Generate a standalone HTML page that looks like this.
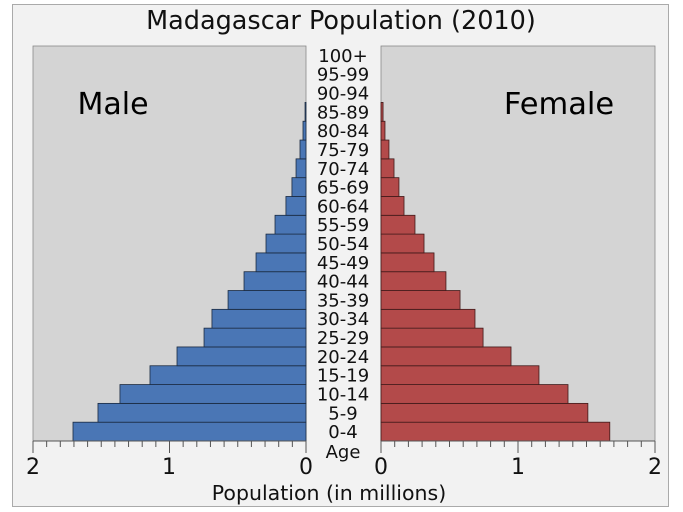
<!DOCTYPE html>
<html><head><meta charset="utf-8"><style>
html,body{margin:0;padding:0;background:#fff;}
svg{display:block;font-family:"DejaVu Sans","Liberation Sans",sans-serif;}
</style></head><body>
<svg width="683" height="512" viewBox="0 0 683 512" xmlns="http://www.w3.org/2000/svg">
<rect x="0" y="0" width="683" height="512" fill="#ffffff"/>
<rect x="12.5" y="4.5" width="656" height="502" fill="#f2f2f2" stroke="#aaaaaa" stroke-width="1"/>
<text x="341" y="29" font-size="25.5" text-anchor="middle" fill="#111">Madagascar Population (2010)</text>
<rect x="33" y="46" width="273" height="395" fill="#d4d4d4" stroke="#888" stroke-width="0.8"/>
<rect x="381" y="46" width="274" height="395" fill="#d4d4d4" stroke="#888" stroke-width="0.8"/>
<text x="113" y="114" font-size="30" text-anchor="middle" fill="#000">Male</text>
<text x="559" y="114" font-size="30.5" text-anchor="middle" fill="#000">Female</text>
<g id="bars" stroke="#1a2a40" stroke-width="0.8"></g>
<g id="labels" font-size="18" text-anchor="middle" fill="#111"></g>
<g id="ticks" stroke="#555" stroke-width="1"></g>
<g font-size="22" text-anchor="middle" fill="#111">
<text x="33" y="474">2</text><text x="169" y="474">1</text><text x="306" y="474">0</text>
<text x="381" y="474">0</text><text x="518" y="474">1</text><text x="655" y="474">2</text>
</g>
<text x="343" y="458" font-size="18" text-anchor="middle" fill="#111">Age</text>
<text x="329" y="500" font-size="20.5" text-anchor="middle" fill="#111">Population (in millions)</text>
</svg>
<script>
var ns="http://www.w3.org/2000/svg";
var ages=["0-4","5-9","10-14","15-19","20-24","25-29","30-34","35-39","40-44","45-49","50-54","55-59","60-64","65-69","70-74","75-79","80-84","85-89","90-94","95-99","100+"];
var m=[1.707,1.524,1.363,1.143,0.945,0.747,0.689,0.571,0.454,0.366,0.293,0.227,0.147,0.103,0.073,0.044,0.022,0.007,0,0,0];
var f=[1.67,1.51,1.365,1.153,0.949,0.745,0.686,0.577,0.474,0.387,0.314,0.248,0.168,0.131,0.095,0.058,0.029,0.015,0,0,0];
var h=395/21,b=document.getElementById("bars"),l=document.getElementById("labels"),t=document.getElementById("ticks");
function el(g,tag,a,txt){var e=document.createElementNS(ns,tag);for(var k in a)e.setAttribute(k,a[k]);if(txt)e.textContent=txt;g.appendChild(e);}
for(var i=0;i<21;i++){var y=441-(i+1)*h;
 if(m[i]>0){var w=m[i]*136.5;el(b,"rect",{x:306-w,y:y,width:w,height:h,fill:"#4a76b5"});}
 if(f[i]>0){var w2=f[i]*137;el(b,"rect",{x:381,y:y,width:w2,height:h,fill:"#b34a4a",stroke:"#401a1a"});}
 el(l,"text",{x:343,y:y+h/2+6.5},ages[i]);}
el(t,"line",{x1:33,y1:441,x2:306,y2:441});el(t,"line",{x1:381,y1:441,x2:655,y2:441});
for(var j=0;j<=20;j++){var len=(j%10==0)?12:6;
 var x1=306-j*13.65;el(t,"line",{x1:x1,y1:441,x2:x1,y2:441+len});
 var x2=381+j*13.7;el(t,"line",{x1:x2,y1:441,x2:x2,y2:441+len});}
</script>
</body></html>
